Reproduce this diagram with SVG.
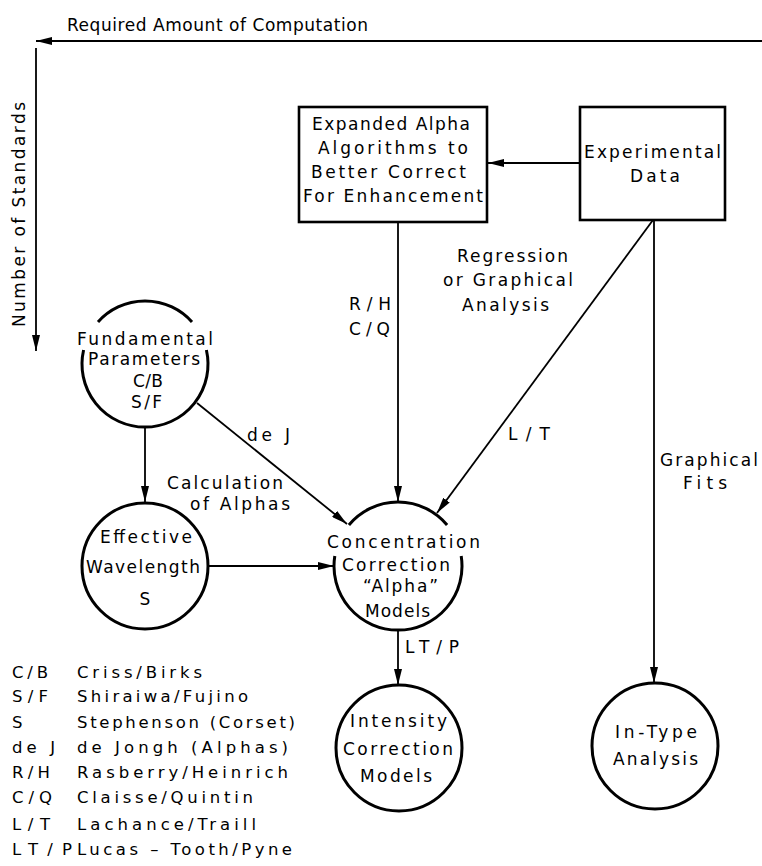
<svg xmlns="http://www.w3.org/2000/svg" width="762" height="866" viewBox="0 0 762 866">
<style>
  text { font-family: "DejaVu Sans", "Liberation Sans", sans-serif; font-size: 17px; fill: #000; }
  .m { text-anchor: middle; }
  .lg { font-size: 16.5px; }
  .title { font-size: 17px; }
  .node { fill: none; stroke: #000; stroke-width: 3; }
  .box { fill: none; stroke: #000; stroke-width: 2.6; }
  .edge { fill: none; stroke: #000; stroke-width: 1.8; marker-end: url(#ah); }
</style>
<defs>
  <marker id="ah" markerUnits="userSpaceOnUse" viewBox="0 0 16 8" refX="16" refY="4" markerWidth="16" markerHeight="8" orient="auto">
    <path d="M0,0 L16,4 L0,8 Z" fill="#000"/>
  </marker>
</defs>
<rect width="762" height="866" fill="#fff"/>

<g id="axes">
  <line class="edge" x1="762" y1="41" x2="36" y2="41"/>
  <text class="title" x="67" y="31" textLength="301" lengthAdjust="spacing">Required Amount of Computation</text>
  <line class="edge" x1="36" y1="48" x2="36" y2="351"/>
  <text class="title" transform="translate(25,327) rotate(-90)" x="0" y="0" textLength="225" lengthAdjust="spacing">Number of Standards</text>
</g>

<g id="connectors">
  <line class="edge" x1="580" y1="163" x2="488" y2="163"/>
  <line class="edge" x1="398" y1="222" x2="398" y2="502"/>
  <line class="edge" x1="653" y1="220" x2="437" y2="513"/>
  <line class="edge" x1="654" y1="220" x2="654" y2="683"/>
  <line class="edge" x1="145" y1="427" x2="145" y2="502"/>
  <line class="edge" x1="197" y1="403" x2="347" y2="524"/>
  <line class="edge" x1="208" y1="566" x2="334" y2="566"/>
  <line class="edge" x1="398" y1="630" x2="398" y2="685"/>
  <text x="349" y="310" textLength="42" lengthAdjust="spacing">R/H</text>
  <text x="349" y="335" textLength="41" lengthAdjust="spacing">C/Q</text>
  <text x="457" y="262" textLength="111" lengthAdjust="spacing">Regression</text>
  <text x="443" y="286" textLength="130" lengthAdjust="spacing">or Graphical</text>
  <text x="462" y="311" textLength="87" lengthAdjust="spacing">Analysis</text>
  <text x="508" y="440" textLength="42" lengthAdjust="spacing">L/T</text>
  <text x="660" y="466" textLength="98" lengthAdjust="spacing">Graphical</text>
  <text x="683" y="489" textLength="44" lengthAdjust="spacing">Fits</text>
  <text x="247" y="441" textLength="43" lengthAdjust="spacing">de J</text>
  <text x="167" y="489" textLength="116" lengthAdjust="spacing">Calculation</text>
  <text x="190" y="510" textLength="100" lengthAdjust="spacing">of Alphas</text>
  <text x="405" y="653" textLength="54" lengthAdjust="spacing">LT/P</text>
</g>

<g id="expanded-alpha">
  <rect class="box" x="299" y="107" width="188" height="115"/>
  <text x="312" y="130" textLength="158" lengthAdjust="spacing">Expanded Alpha</text>
  <text x="318" y="154" textLength="150" lengthAdjust="spacing">Algorithms to</text>
  <text x="311" y="178" textLength="155" lengthAdjust="spacing">Better Correct</text>
  <text x="303" y="202" textLength="180" lengthAdjust="spacing">For Enhancement</text>
</g>

<g id="experimental-data">
  <rect class="box" x="580" y="107" width="145" height="113"/>
  <text x="584" y="158" textLength="137" lengthAdjust="spacing">Experimental</text>
  <text x="630" y="182" textLength="50" lengthAdjust="spacing">Data</text>
</g>

<g id="fundamental-parameters">
  <path class="node" d="M98,322 A63,63 0 0 1 192,322 M206.4,350 A63,63 0 1 1 83.6,350"/>
  <text x="77" y="345" textLength="136" lengthAdjust="spacing">Fundamental</text>
  <text x="88" y="365" textLength="112" lengthAdjust="spacing">Parameters</text>
  <text x="133" y="387" textLength="30" lengthAdjust="spacing">C/B</text>
  <text x="131" y="408" textLength="31" lengthAdjust="spacing">S/F</text>
</g>

<g id="effective-wavelength">
  <circle class="node" cx="145" cy="566" r="63"/>
  <text x="100" y="543" textLength="92" lengthAdjust="spacing">Effective</text>
  <text x="86" y="573" textLength="114" lengthAdjust="spacing">Wavelength</text>
  <text class="m" x="145" y="605">S</text>
</g>

<g id="concentration-correction">
  <path class="node" d="M348.9,525 A64,64 0 0 1 447.1,525 M461.2,556 A64,64 0 1 1 334.8,556"/>
  <text x="327" y="548" textLength="153" lengthAdjust="spacing">Concentration</text>
  <text x="342" y="571" textLength="108" lengthAdjust="spacing">Correction</text>
  <text x="363" y="592" textLength="75" lengthAdjust="spacing">“Alpha”</text>
  <text x="365" y="617" textLength="65" lengthAdjust="spacing">Models</text>
</g>

<g id="intensity-correction">
  <circle class="node" cx="399" cy="748" r="63"/>
  <text x="350" y="727" textLength="97" lengthAdjust="spacing">Intensity</text>
  <text x="343" y="755" textLength="110" lengthAdjust="spacing">Correction</text>
  <text x="360" y="782" textLength="72" lengthAdjust="spacing">Models</text>
</g>

<g id="in-type-analysis">
  <circle class="node" cx="655" cy="746" r="63"/>
  <text x="615" y="738" textLength="82" lengthAdjust="spacing">In-Type</text>
  <text x="613" y="765" textLength="85" lengthAdjust="spacing">Analysis</text>
</g>

<g id="legend">
  <text class="lg" x="12" y="678" textLength="36" lengthAdjust="spacing">C/B</text>
  <text class="lg" x="77" y="678" textLength="125" lengthAdjust="spacing">Criss/Birks</text>
  <text class="lg" x="12" y="702" textLength="36" lengthAdjust="spacing">S/F</text>
  <text class="lg" x="77" y="702" textLength="171" lengthAdjust="spacing">Shiraiwa/Fujino</text>
  <text class="lg" x="12" y="728">S</text>
  <text class="lg" x="77" y="728" textLength="218" lengthAdjust="spacing">Stephenson (Corset)</text>
  <text class="lg" x="12" y="753" textLength="43" lengthAdjust="spacing">de J</text>
  <text class="lg" x="77" y="753" textLength="211" lengthAdjust="spacing">de Jongh (Alphas)</text>
  <text class="lg" x="12" y="778" textLength="38" lengthAdjust="spacing">R/H</text>
  <text class="lg" x="77" y="778" textLength="211" lengthAdjust="spacing">Rasberry/Heinrich</text>
  <text class="lg" x="12" y="803" textLength="40" lengthAdjust="spacing">C/Q</text>
  <text class="lg" x="77" y="803" textLength="176" lengthAdjust="spacing">Claisse/Quintin</text>
  <text class="lg" x="12" y="830" textLength="38" lengthAdjust="spacing">L/T</text>
  <text class="lg" x="77" y="830" textLength="179" lengthAdjust="spacing">Lachance/Traill</text>
  <text class="lg" x="12" y="855" textLength="60" lengthAdjust="spacing">LT/P</text>
  <text class="lg" x="77" y="855" textLength="215" lengthAdjust="spacing">Lucas – Tooth/Pyne</text>
</g>
</svg>
